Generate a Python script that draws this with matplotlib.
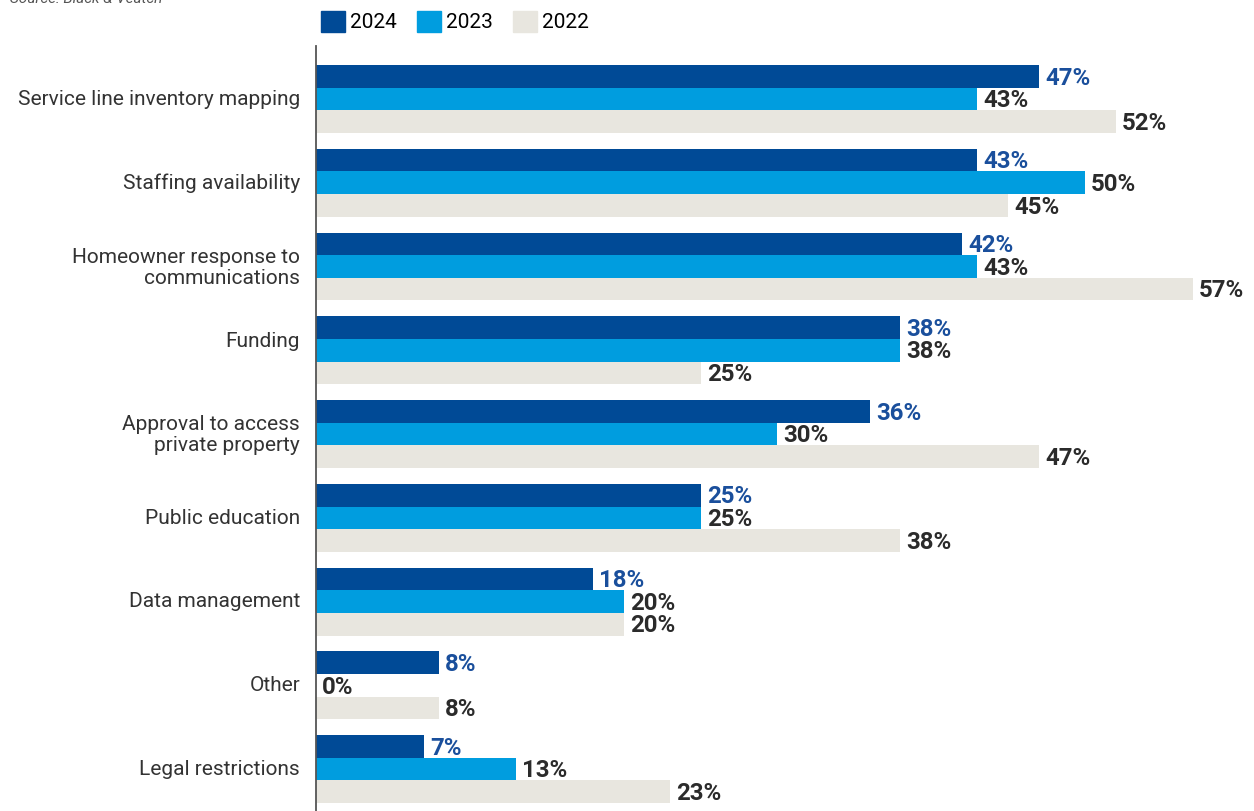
import matplotlib.pyplot as plt
import numpy as np
from matplotlib.patches import Patch

# "Funding" keeps an empty second line so it sits a half line high
categories = ["Service line inventory mapping", "Staffing availability",
              "Homeowner response to\ncommunications", "Funding\n",
              "Approval to access\nprivate property", "Public education",
              "Data management", "Other", "Legal restrictions"]
years = ["2024", "2023", "2022"]
v2024 = [47, 43, 42, 38, 36, 25, 18, 8, 7]
v2023 = [43, 50, 43, 38, 30, 25, 20, 0, 13]
v2022 = [52, 45, 57, 25, 47, 38, 20, 8, 23]

colors = ["#004a96", "#009ddf", "#e8e6df"]
label_colors = ["#1a4f9c", "#2b2b2b", "#2b2b2b"]

W, H = 1254, 811
fig = plt.figure(figsize=(W / 100, H / 100), dpi=100)
ax = fig.add_axes([316 / W, 0, (W - 316) / W, (H - 46) / H])

bh = 0.27
y = np.arange(len(categories))
for k, vals in enumerate([v2024, v2023, v2022]):
    pos = y + (k - 1) * bh
    ax.barh(pos, vals, height=bh, color=colors[k], linewidth=0)
    for p, v in zip(pos, vals):
        ax.text(v + 0.4, p + 0.02, f"{v}%", va="center", ha="left",
                fontsize=17.3, fontweight="bold", color=label_colors[k],
                family="Roboto")

ax.set_xlim(0, (W - 316) / 15.38)
ax.set_ylim(8.50, -0.633)
ax.set_yticks(y - 0.02)
ax.set_yticklabels(categories, family="Roboto", fontsize=15,
                   color="#333333", linespacing=1.12)
ax.tick_params(axis="y", length=0, pad=11.5)
ax.set_xticks([])
for s in ["top", "right", "bottom"]:
    ax.spines[s].set_visible(False)
ax.spines["left"].set_color("#555555")
ax.spines["left"].set_linewidth(1.3)

handles = [Patch(color=c, label=yr) for c, yr in zip(colors, years)]
fig.legend(handles=handles, loc="upper left", bbox_to_anchor=(321 / W, 1 - 11 / H),
           ncol=3, frameon=False, handlelength=1.15, handleheight=1.15,
           handletextpad=0.25, columnspacing=0.95, borderpad=0, borderaxespad=0,
           prop={"family": "Roboto", "size": 15})

fig.text(10 / W, 1 - 3 / H, "Source: Black & Veatch", ha="left", va="baseline",
         fontsize=11, style="italic", color="#555555", family="Roboto")

fig.savefig("out.png", dpi=100)
